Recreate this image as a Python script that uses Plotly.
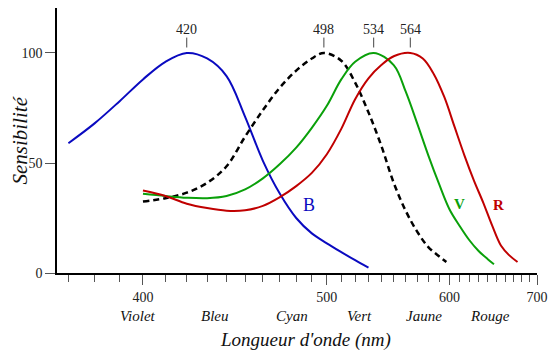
import plotly.graph_objects as go

# ---- data (wavelength in nm, relative sensitivity in %) ----
blue_wl = [370, 380, 390, 400, 410, 420, 430, 440, 450, 460, 470, 480, 490, 500, 510, 520, 530]
blue_s = [59, 68, 78, 88, 96, 100, 97.5, 89.5, 71, 51, 36, 25, 18, 13.5, 9.5, 5.8, 2.4]

rod_wl = [400, 410, 420, 430, 440, 450, 460, 470, 480, 490, 498, 510, 520, 530, 540, 550, 560, 570, 580, 590, 597]
rod_s = [32.5, 34, 36.5, 41, 48.5, 62, 74, 84.3, 92, 97.5, 100, 96.5, 86.5, 73, 57.8, 41, 28.3, 18.8, 11.8, 7.6, 5]

green_wl = [400, 410, 420, 430, 440, 450, 460, 470, 480, 490, 500, 510, 520, 534, 550, 560, 570, 580, 590, 600, 610, 620, 630, 640, 647]
green_s = [36, 35, 34.2, 34, 35, 38, 43, 49.5, 57, 66, 76, 88, 96, 100, 94.5, 82.5, 68, 53.5, 40.5, 29, 21.5, 15, 10, 6.3, 4]

red_wl = [400, 410, 420, 430, 440, 450, 460, 470, 480, 490, 500, 510, 520, 530, 540, 550, 564, 575, 585, 595, 605, 615, 625, 635, 645, 655, 665, 675]
red_s = [37.5, 35, 31.5, 29.5, 28.3, 28.5, 30.5, 34.5, 39.5, 45.5, 54, 65.5, 79, 88.5, 94.5, 98.5, 100, 97.5, 90.5, 80, 66.5, 53.5, 42, 32, 21.5, 12.5, 8, 5]

peak_wl = [420, 498, 534, 564]
peak_labels = ["420", "498", "534", "564"]

major_ticks = [400, 500, 600, 700]
minor_ticks = [w for w in range(370, 701, 10) if w not in (400, 500, 600, 700)]

color_names = ["Violet", "Bleu", "Cyan", "Vert", "Jaune", "Rouge"]
color_name_wl = [398, 434, 477.5, 523, 576, 643]

curve_label_wl = [488, 610, 652]
curve_label_s = [31, 31.5, 31]

# axis is linear in frequency (wavenumber, cm^-1), labelled in wavelength
def wn(w):
    return 1e7 / w

SERIF = "Liberation Serif, Times New Roman, serif"
BLUE = "#0a0ac0"
GREEN = "#0aa00a"
RED = "#c00000"
SM = 1.0

fig = go.Figure()
fig.add_trace(go.Scatter(x=[wn(w) for w in blue_wl], y=blue_s, mode="lines",
                         line=dict(color=BLUE, width=2, shape="spline", smoothing=SM), hoverinfo="skip"))
fig.add_trace(go.Scatter(x=[wn(w) for w in rod_wl], y=rod_s, mode="lines",
                         line=dict(color="black", width=2.5, dash="6px,4px", shape="spline", smoothing=SM), hoverinfo="skip"))
fig.add_trace(go.Scatter(x=[wn(w) for w in green_wl], y=green_s, mode="lines",
                         line=dict(color=GREEN, width=2, shape="spline", smoothing=SM), hoverinfo="skip"))
fig.add_trace(go.Scatter(x=[wn(w) for w in red_wl], y=red_s, mode="lines",
                         line=dict(color=RED, width=2, shape="spline", smoothing=SM), hoverinfo="skip"))

# little marks above the peaks
for w in peak_wl:
    fig.add_trace(go.Scatter(x=[wn(w), wn(w)], y=[102.5, 107], mode="lines",
                             line=dict(color="#444", width=1), hoverinfo="skip"))

annotations = []
for w, t in zip(peak_wl, peak_labels):
    annotations.append(dict(x=wn(w), y=110.8, text=t, showarrow=False, xanchor="center", yanchor="middle",
                            font=dict(family=SERIF, size=14, color="#222")))
for w, t in zip(color_name_wl, color_names):
    annotations.append(dict(x=wn(w), y=0, yref="y", text="<i>" + t + "</i>", showarrow=False,
                            xanchor="center", yanchor="middle", yshift=-43,
                            font=dict(family=SERIF, size=15, color="#111")))
label_styles = [("B", BLUE, False, 18), ("V", GREEN, True, 15), ("R", RED, True, 15)]
for (t, c, b, sz), w, s in zip(label_styles, curve_label_wl, curve_label_s):
    annotations.append(dict(x=wn(w), y=s, text=("<b>%s</b>" % t) if b else t, showarrow=False,
                            xanchor="center", yanchor="middle",
                            font=dict(family=SERIF, size=sz, color=c)))
annotations.append(dict(x=0.517, xref="paper", y=0, yref="paper", yshift=-67, text="<i>Longueur d'onde (nm)</i>",
                        showarrow=False, xanchor="center", yanchor="middle",
                        font=dict(family=SERIF, size=19, color="#111")))
annotations.append(dict(x=0, xref="paper", xshift=-38, y=0.5, yref="paper", text="<i>Sensibilité</i>",
                        textangle=-90, showarrow=False, xanchor="center", yanchor="middle",
                        font=dict(family=SERIF, size=21, color="#111")))

# the page body adds an 8px offset, so the figure is 8px smaller in each direction
fig.update_layout(
    width=550, height=347,
    margin=dict(l=49, r=21, t=0, b=82),
    paper_bgcolor="white", plot_bgcolor="white",
    showlegend=False,
    annotations=annotations,
    xaxis=dict(range=[wn(365.8), wn(700)], showgrid=False, zeroline=False,
               showline=True, linecolor="black", linewidth=1.5,
               tickmode="array", tickvals=[wn(w) for w in major_ticks], ticktext=[str(w) for w in major_ticks],
               ticks="outside", ticklen=10, tickwidth=1, tickcolor="#555",
               tickfont=dict(family=SERIF, size=14, color="#222"),
               minor=dict(tickmode="array", tickvals=[wn(w) for w in minor_ticks], ticks="outside",
                          ticklen=7, tickwidth=1, tickcolor="#555", showgrid=False)),
    yaxis=dict(range=[0, 120.45], showgrid=False, zeroline=False,
               showline=True, linecolor="black", linewidth=1.5,
               tickmode="array", tickvals=[0, 50, 100], ticktext=["0", "50", "100"],
               ticks="outside", ticklen=10, tickwidth=1, tickcolor="#555",
               tickfont=dict(family=SERIF, size=14, color="#222")),
)

fig.write_html("out.html")
